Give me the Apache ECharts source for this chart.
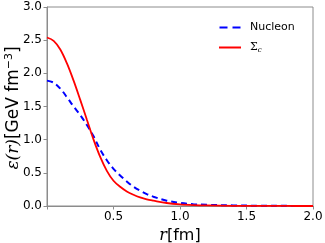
<!DOCTYPE html>
<html><head><meta charset="utf-8">
<script src="https://cdn.jsdelivr.net/npm/echarts@6/dist/echarts.min.js"></script>
<style>html,body{margin:0;padding:0;background:#fff}#c{width:325px;height:243px}</style>
</head><body><div id="c"></div>
<script>
var rValues = [0, 0.05, 0.1, 0.15, 0.2, 0.25, 0.3, 0.35, 0.4, 0.45, 0.5, 0.55, 0.6, 0.65, 0.7, 0.75, 0.8, 0.9, 1.0, 1.1, 1.2, 1.4, 1.6, 1.8, 2.0];
var nucleon = [1.89, 1.86, 1.77, 1.64, 1.50, 1.37, 1.22, 1.05, 0.85, 0.69, 0.56, 0.46, 0.37, 0.29, 0.23, 0.18, 0.14, 0.08, 0.047, 0.028, 0.018, 0.009, 0.004, 0.002, 0.001];
var sigmaC = [2.54, 2.49, 2.36, 2.15, 1.89, 1.60, 1.30, 1.00, 0.74, 0.53, 0.38, 0.29, 0.22, 0.17, 0.13, 0.10, 0.08, 0.045, 0.025, 0.014, 0.008, 0.003, 0.001, 0.0005, 0];
var xTicks = [0, 0.5, 1.0, 1.5, 2.0];
var yTicks = [0, 0.5, 1.0, 1.5, 2.0, 2.5, 3.0];

function pairs(ys){ return rValues.map(function(r,i){return [r, ys[i]];}); }
var chart = echarts.init(document.getElementById('c'), null, {renderer:'canvas'});
var axisCol = '#8c8c8c';
chart.setOption({
  animation:false,
  grid:{left:47, right:12, top:7, bottom:37, show:true, borderColor:axisCol, borderWidth:1, containLabel:false, outerBoundsMode:'none'},
  xAxis:{type:'value', min:xTicks[0], max:xTicks[xTicks.length-1], interval:0.5,
    axisLine:{show:true, lineStyle:{color:axisCol}},
    axisTick:{show:true, length:3.5, lineStyle:{color:axisCol}},
    splitLine:{show:false},
    axisLabel:{color:'#000', fontSize:12, fontFamily:'DejaVu Sans', margin:5,
      formatter:function(v){return v===0?'':v.toFixed(1);}},
    name:'{i|r}{n|[fm]}', nameLocation:'middle', nameGap:17,
    nameTextStyle:{rich:{i:{fontFamily:'DejaVu Serif', fontStyle:'italic', fontSize:16, color:'#000'},
      n:{fontFamily:'DejaVu Sans', fontSize:16, color:'#000'}}}
  },
  yAxis:{type:'value', min:yTicks[0], max:yTicks[yTicks.length-1], interval:0.5,
    axisLine:{show:true, lineStyle:{color:axisCol}},
    axisTick:{show:true, length:3.5, lineStyle:{color:axisCol}},
    splitLine:{show:false},
    axisLabel:{color:'#000', fontSize:12, fontFamily:'DejaVu Sans', margin:5,
      formatter:function(v){return v.toFixed(1);}}
  },
  graphic:[{type:'text', x:14, y:108, rotation:Math.PI/2,
    style:{text:'{i|ε(r)}{n|[GeV fm}{s|−3}{n|]}', align:'center', verticalAlign:'middle',
      rich:{i:{fontFamily:'DejaVu Serif', fontStyle:'italic', fontSize:17, fill:'#000'},
        n:{fontFamily:'DejaVu Sans', fontSize:17, fill:'#000'},
        s:{fontFamily:'DejaVu Sans', fontSize:11, fill:'#000', verticalAlign:'top', padding:[0,0,9,0]}}}}],
  legend:{orient:'vertical', left:214, top:17, itemWidth:22, itemHeight:2, itemGap:9,
    textStyle:{fontSize:11, fontFamily:'DejaVu Sans', color:'#000', padding:[0,0,0,4],
      rich:{g:{fontFamily:'DejaVu Serif', fontSize:11, color:'#000'}, sub:{fontFamily:'DejaVu Serif', fontStyle:'italic', fontSize:7, color:'#000', padding:[6,0,0,0]}}},
    formatter:function(n){ return n==='Nucleon' ? 'Nucleon' : '{g|Σ}{sub|c}'; },
    data:[{name:'Nucleon', icon:'path://M0,0 L8,0 L8,2 L0,2 Z M13,0 L21,0 L21,2 L13,2 Z'}, {name:'Σc', icon:'path://M0,0 L22,0 L22,2 L0,2 Z'}]
  },
  series:[
    {name:'Nucleon', type:'line', data:pairs(nucleon), showSymbol:false, symbol:'none', smooth:0.35,
      itemStyle:{color:'#0000ff'}, lineStyle:{color:'#0000ff', width:2, type:[6,4]}},
    {name:'Σc', type:'line', data:pairs(sigmaC), showSymbol:false, symbol:'none', smooth:0.35,
      itemStyle:{color:'#ff0000'}, lineStyle:{color:'#ff0000', width:1.8}}
  ]
});
</script></body></html>
